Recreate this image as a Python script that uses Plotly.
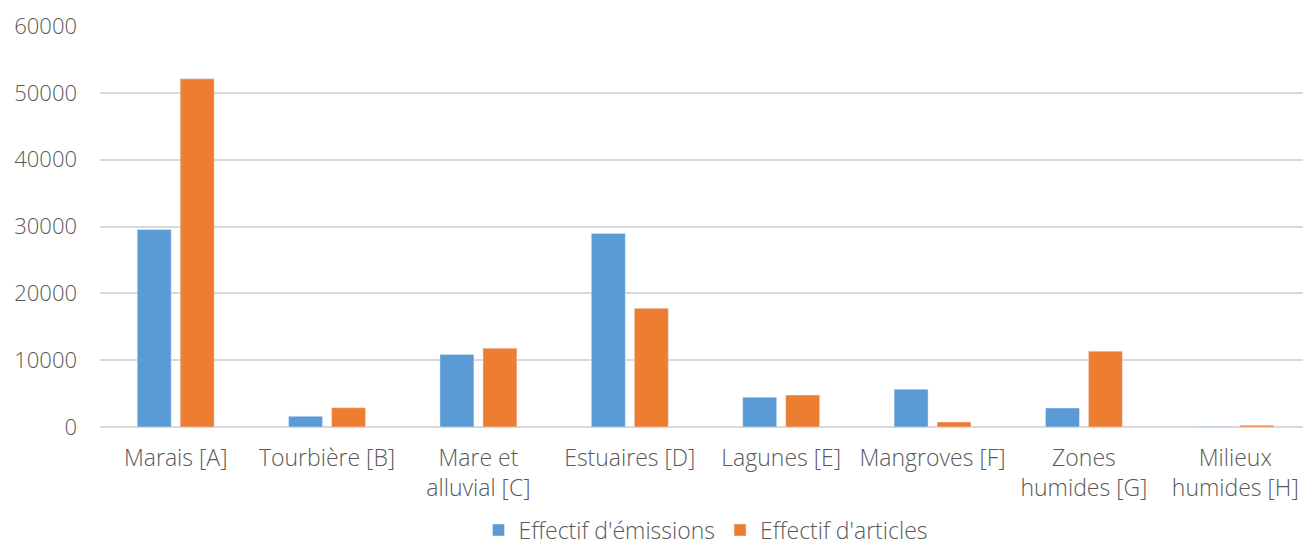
import plotly.graph_objects as go

categories = [
    "Marais [A]",
    "Tourbière [B]",
    "Mare et<br>alluvial [C]",
    "Estuaires [D]",
    "Lagunes [E]",
    "Mangroves [F]",
    "Zones<br>humides [G]",
    "Milieux<br>humides [H]",
]
emissions = [29550, 1600, 10850, 28950, 4450, 5650, 2850, 60]
articles = [52100, 2880, 11800, 17750, 4780, 750, 11350, 250]
y_ticks = [0, 10000, 20000, 30000, 40000, 50000, 60000]

font = dict(family="Open Sans", size=22, color="#595959", weight=300)

fig = go.Figure()
fig.add_trace(go.Bar(x=categories, y=emissions, name="Effectif d'émissions",
                     marker_color="#5B9BD5"))
fig.add_trace(go.Bar(x=categories, y=articles, name="Effectif d'articles",
                     marker_color="#ED7D31"))

# page body has an 8px margin, so the figure is sized to fit inside the window
fig.update_layout(
    width=1303, height=538,
    margin=dict(l=92, r=0, t=18, b=119, autoexpand=False),
    plot_bgcolor="white", paper_bgcolor="white",
    font=font,
    barmode="group", bargap=0.432, bargroupgap=0.21,
    legend=dict(orientation="h", x=0.5, xanchor="center",
                y=-0.257, yanchor="middle",
                font=dict(font, size=23), itemwidth=30, traceorder="normal"),
    xaxis=dict(showgrid=False, showline=False, ticks="", tickangle=0,
               tickfont=dict(size=23),
               ticklabelstandoff=15, automargin=False),
    yaxis=dict(range=[0, 60000], tickvals=y_ticks, tickformat="d",
               showgrid=True, gridcolor="#d9d9d9",
               gridwidth=1.5, zeroline=True, zerolinecolor="#d9d9d9", zerolinewidth=2,
               ticks="", ticklabelstandoff=22, automargin=False),
)

fig.write_html("out.html")
